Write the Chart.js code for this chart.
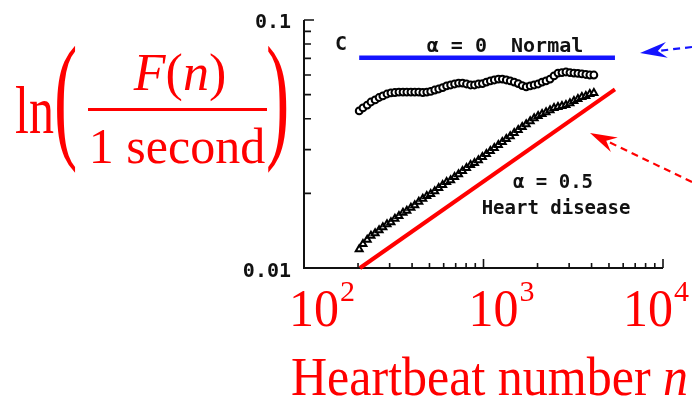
<!DOCTYPE html>
<html>
<head>
<meta charset="utf-8">
<script src="https://cdn.jsdelivr.net/npm/chart.js@4/dist/chart.umd.min.js"></script>
<style>
html,body{margin:0;padding:0;background:#fff;}
canvas{display:block;}
</style>
</head>
<body>
<canvas id="c" width="692" height="400"></canvas>
<script>
// Heartbeat number n (shared by both measured series)
const nValues = [203,213,225,236,249,262,275,290,305,321,338,356,374,394,414,436,459,483,508,535,563,592,623,656,690,726,764,804,847,891,937,986,1038,1092,1149,1210,1273,1340,1409,1483,1561,1643,1729,1820,1915,2015,2120,2231,2348,2471,2600,2736,2880,3031,3190,3357,3532,3717,3911,4120];
// F(n) for the normal subject (circles)
const normalF = [0.0430,0.0442,0.0454,0.0467,0.0476,0.0487,0.0494,0.0503,0.0508,0.0510,0.0512,0.0512,0.0512,0.0512,0.0512,0.0512,0.0510,0.0512,0.0515,0.0522,0.0527,0.0534,0.0542,0.0547,0.0552,0.0557,0.0557,0.0552,0.0547,0.0547,0.0552,0.0554,0.0562,0.0568,0.0573,0.0578,0.0578,0.0573,0.0568,0.0562,0.0554,0.0544,0.0537,0.0542,0.0547,0.0552,0.0562,0.0568,0.0578,0.0595,0.0611,0.0614,0.0617,0.0614,0.0611,0.0609,0.0606,0.0603,0.0600,0.0600];
// F(n) for the heart disease subject (triangles)
const heartF = [0.0119,0.0125,0.0130,0.0135,0.0138,0.0142,0.0146,0.0150,0.0153,0.0158,0.0162,0.0167,0.0170,0.0175,0.0179,0.0185,0.0190,0.0195,0.0199,0.0204,0.0210,0.0216,0.0222,0.0226,0.0233,0.0239,0.0246,0.0253,0.0260,0.0265,0.0272,0.0280,0.0288,0.0296,0.0305,0.0313,0.0322,0.0331,0.0340,0.0350,0.0360,0.0370,0.0380,0.0391,0.0402,0.0410,0.0418,0.0425,0.0433,0.0442,0.0446,0.0450,0.0454,0.0462,0.0471,0.0480,0.0489,0.0494,0.0503,0.0508];
// Guide lines: alpha = 0 (flat) and alpha = 0.5
const flatN = [203, 5400];
const flatF = [0.0705, 0.0705];
const slopeN = [205, 5400];
const slopeF = [0.0100, 0.0525];
// Axis ticks and labels
const xMinorTicks = [200,300,400,500,600,700,800,900,2000,3000,4000,5000,6000,7000,8000,9000];
const xMajorTicks = [100,1000,10000];
const xTickExponents = ['2','3','4'];
const yMinorTicks = [0.02,0.03,0.04,0.05,0.06,0.07,0.08,0.09];
const yMajorTicks = [0.01,0.1];
const yTickLabels = ['0.01','0.1'];

const toPts = (xs, ys) => xs.map((x, i) => ({x: x, y: ys[i]}));

const RED = '#ff0000';
const BLUE = '#1414ff';
const SERIF = '"Liberation Serif", "Times New Roman", serif';
const MONO = '"DejaVu Sans Mono", "Liberation Mono", monospace';

function drawArrow(ctx, tail, tip, color) {
  const dx = tip[0] - tail[0], dy = tip[1] - tail[1];
  const L = Math.hypot(dx, dy);
  const ux = dx / L, uy = dy / L, px = -uy, py = ux;
  const headLen = 27, half = 8, notch = 18;
  const bx = tip[0] - ux * headLen, by = tip[1] - uy * headLen;
  const nx = tip[0] - ux * notch, ny = tip[1] - uy * notch;
  ctx.save();
  ctx.strokeStyle = color; ctx.lineWidth = 2.2; ctx.setLineDash([7, 5]);
  ctx.beginPath(); ctx.moveTo(tail[0], tail[1]); ctx.lineTo(nx, ny); ctx.stroke();
  ctx.setLineDash([]);
  ctx.fillStyle = color;
  ctx.beginPath();
  ctx.moveTo(tip[0], tip[1]);
  ctx.lineTo(bx + px * half, by + py * half);
  ctx.lineTo(nx, ny);
  ctx.lineTo(bx - px * half, by - py * half);
  ctx.closePath(); ctx.fill();
  ctx.restore();
}

const decorPlugin = {
  id: 'decor',
  beforeDatasetsDraw(chart) {
    const ctx = chart.ctx, xs = chart.scales.x, ys = chart.scales.y;
    const L = xs.getPixelForValue(100), R = xs.getPixelForValue(10000);
    const T = ys.getPixelForValue(0.1), B = ys.getPixelForValue(0.01);
    ctx.save();
    ctx.strokeStyle = '#111'; ctx.lineWidth = 2;
    ctx.beginPath(); ctx.moveTo(L, T); ctx.lineTo(L, B); ctx.lineTo(R, B); ctx.stroke();
    ctx.lineWidth = 1.6;
    ctx.beginPath();
    xMinorTicks.forEach(v => { const p = xs.getPixelForValue(v); ctx.moveTo(p, B); ctx.lineTo(p, B - 5); });
    xMajorTicks.forEach(v => { const p = xs.getPixelForValue(v); ctx.moveTo(p, B); ctx.lineTo(p, B - 9); });
    yMinorTicks.forEach(v => { const p = ys.getPixelForValue(v); ctx.moveTo(L, p); ctx.lineTo(L + 7, p); });
    yMajorTicks.forEach(v => { const p = ys.getPixelForValue(v); ctx.moveTo(L, p); ctx.lineTo(L + 10, p); });
    ctx.stroke();
    // y tick labels
    ctx.fillStyle = '#111';
    ctx.font = 'bold 20px ' + MONO;
    ctx.textAlign = 'right'; ctx.textBaseline = 'alphabetic';
    yMajorTicks.forEach((v, i) => { ctx.fillText(yTickLabels[i], L - 13, ys.getPixelForValue(v) + (i === 0 ? 9 : 8)); });
    // panel letter and annotations
    ctx.textAlign = 'left';
    ctx.font = 'bold 20px ' + MONO;
    ctx.fillText('C', L + 31, 50);
    ctx.textAlign = 'center';
    ctx.font = 'bold 20px ' + MONO;
    ctx.fillText('\u03b1 = 0  Normal', 505, 52);
    ctx.font = 'bold 19px ' + MONO;
    ctx.fillText('\u03b1 = 0.5', 553, 188);
    ctx.fillText('Heart disease', 556, 214);
    ctx.restore();
  },
  afterDraw(chart) {
    const ctx = chart.ctx, xs = chart.scales.x;
    ctx.save();
    ctx.fillStyle = RED;
    ctx.textBaseline = 'alphabetic'; ctx.textAlign = 'left';
    // x tick labels 10^k
    xMajorTicks.forEach((v, i) => {
      ctx.font = '50px ' + SERIF;
      const wBase = ctx.measureText('10').width;
      ctx.font = '30px ' + SERIF;
      const wExp = ctx.measureText(xTickExponents[i]).width;
      let x0 = xs.getPixelForValue(v) - 15;
      x0 = Math.min(x0, 692 - wBase - wExp - 4);
      ctx.font = '50px ' + SERIF;
      ctx.save(); ctx.translate(x0, 326); ctx.scale(1, 1.05); ctx.fillText('10', 0, 0); ctx.restore();
      ctx.font = '30px ' + SERIF;
      ctx.fillText(xTickExponents[i], x0 + wBase + 1, 301);
    });
    // x axis title
    ctx.font = '50px ' + SERIF;
    const t1 = 'Heartbeat number ';
    ctx.save(); ctx.translate(291, 395); ctx.scale(1, 1.08);
    ctx.fillText(t1, 0, 0);
    const w1 = ctx.measureText(t1).width;
    ctx.font = 'italic 50px ' + SERIF;
    ctx.fillText('n', w1, 0);
    ctx.restore();
    // y axis title: ln( F(n) / 1 second )
    ctx.font = '50px ' + SERIF;
    ctx.save(); ctx.translate(15, 133); ctx.scale(1, 1.35); ctx.fillText('ln', 0, 0); ctx.restore();
    ctx.font = '140px ' + SERIF;
    ctx.save(); ctx.translate(54, 143); ctx.scale(0.5, 1); ctx.fillText('(', 0, 0); ctx.restore();
    ctx.save(); ctx.translate(266, 143); ctx.scale(0.5, 1); ctx.fillText(')', 0, 0); ctx.restore();
    // numerator
    const parts = [['F', 'italic 52px '], ['(', '52px '], ['n', 'italic 52px '], [')', '52px ']];
    let tw = 0;
    parts.forEach(p => { ctx.font = p[1] + SERIF; tw += ctx.measureText(p[0]).width; });
    let cx = 180 - tw / 2;
    parts.forEach(p => { ctx.font = p[1] + SERIF; ctx.fillText(p[0], cx, 90); cx += ctx.measureText(p[0]).width; });
    ctx.fillRect(88, 108, 179, 3);
    ctx.font = '50px ' + SERIF;
    ctx.textAlign = 'center';
    ctx.fillText('1 second', 177, 163);
    ctx.restore();
    // arrows
    drawArrow(ctx, [692, 47], [640, 53], BLUE);
    drawArrow(ctx, [692, 182], [590, 133], RED);
  }
};

new Chart(document.getElementById('c'), {
  type: 'scatter',
  data: {
    datasets: [
      { label: 'alpha = 0', data: toPts(flatN, flatF), showLine: true, borderColor: BLUE, borderWidth: 4.5, pointRadius: 0, order: 1 },
      { label: 'alpha = 0.5', data: toPts(slopeN, slopeF), showLine: true, borderColor: RED, borderWidth: 4, pointRadius: 0, order: 1 },
      { label: 'Normal', data: toPts(nValues, normalF), pointStyle: 'circle', pointRadius: 3.4, borderColor: '#000', borderWidth: 2, backgroundColor: '#fff', order: 2 },
      { label: 'Heart disease', data: toPts(nValues, heartF), pointStyle: 'triangle', pointRadius: 4, borderColor: '#000', borderWidth: 2, backgroundColor: '#fff', order: 2 }
    ]
  },
  options: {
    responsive: false,
    animation: false,
    devicePixelRatio: 1,
    layout: { padding: { left: 304, right: 29, top: 20, bottom: 132 } },
    plugins: { legend: { display: false }, tooltip: { enabled: false } },
    elements: { line: { tension: 0 } },
    datasets: { scatter: { clip: false } },
    scales: {
      x: { type: 'logarithmic', min: 100, max: 10000, display: false },
      y: { type: 'logarithmic', min: 0.01, max: 0.1, display: false }
    }
  },
  plugins: [decorPlugin]
});
</script>
</body>
</html>
